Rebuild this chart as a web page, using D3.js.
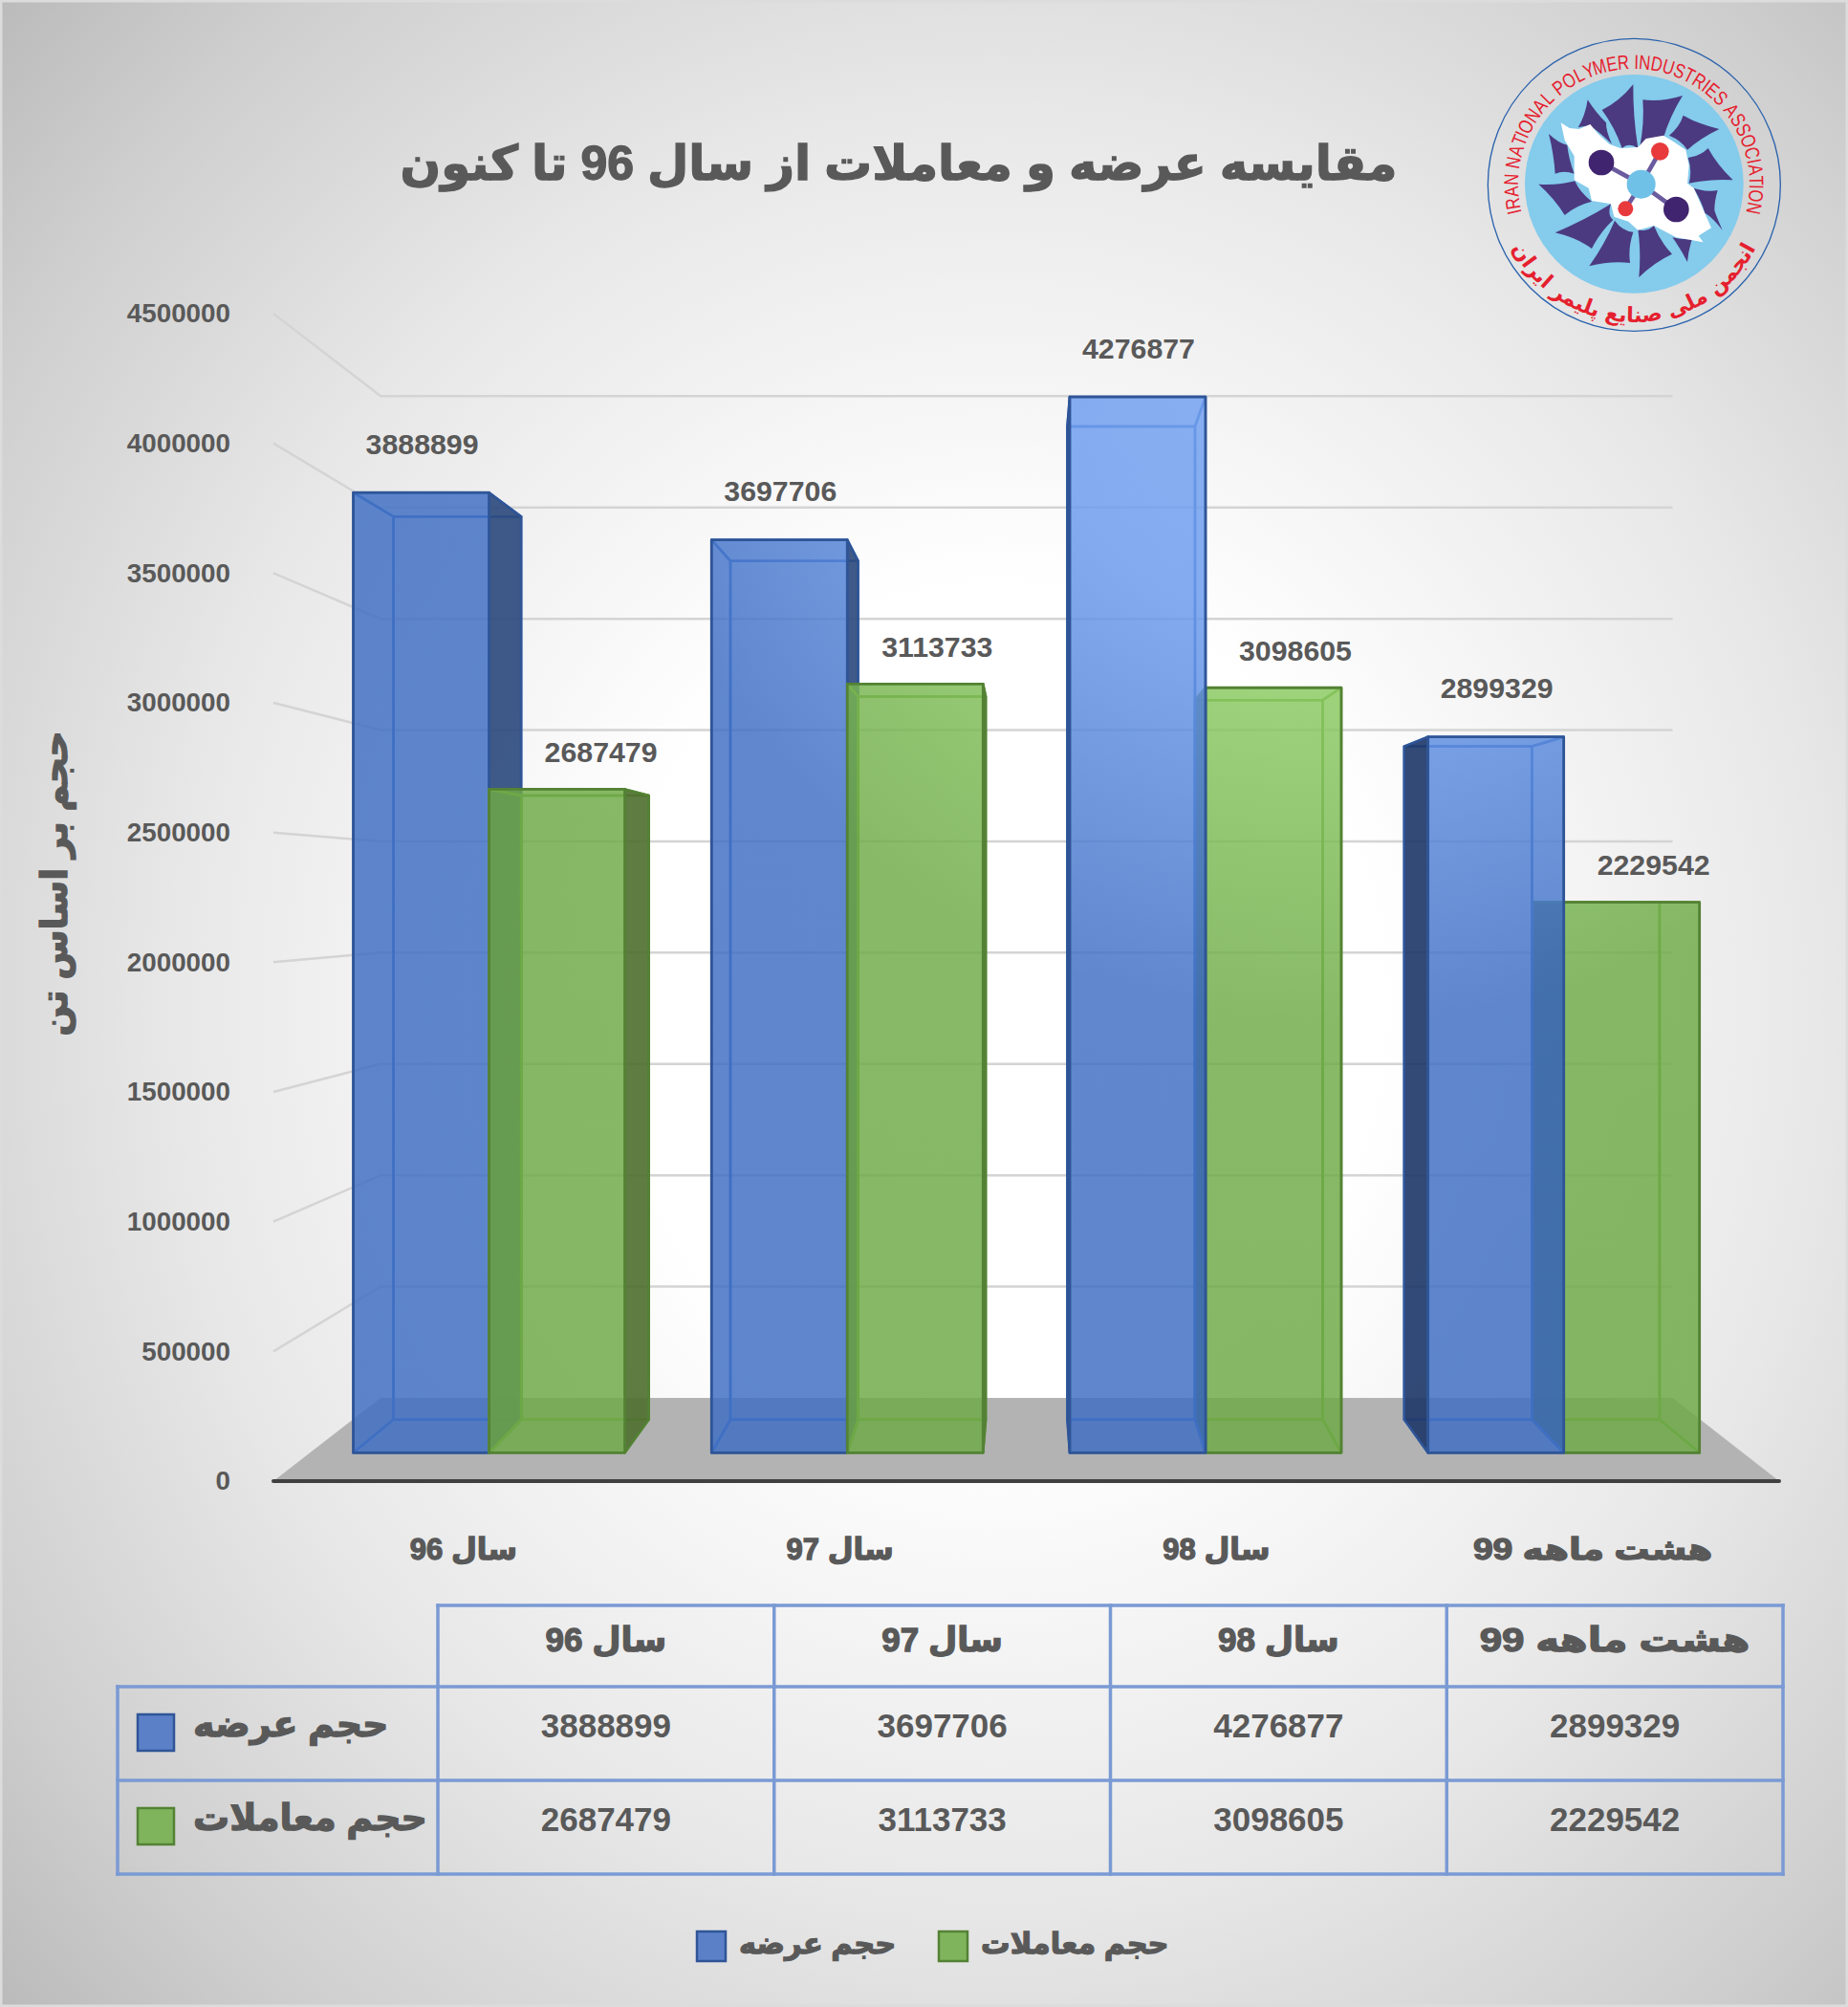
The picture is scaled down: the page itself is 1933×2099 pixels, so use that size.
<!DOCTYPE html>
<html>
<head>
<meta charset="utf-8">
<script src="https://cdn.jsdelivr.net/npm/d3@7"></script>
<style>
  html, body { margin: 0; padding: 0; background: #fff; }
  svg { display: block; }
  .fa { font-family: "Liberation Sans", "DejaVu Sans", sans-serif; font-weight: bold; fill: #595959; stroke: #595959; stroke-width: 1.3; }
  .num { font-family: "Liberation Sans", Arial, sans-serif; font-weight: bold; fill: #595959; }
</style>
</head>
<body>
<script>
// Data
const categories = ["سال 96", "سال 97", "سال 98", "هشت ماهه 99"];
const seriesNames = ["حجم عرضه", "حجم معاملات"];
const supply = [3888899, 3697706, 4276877, 2899329];
const trades = [2687479, 3113733, 3098605, 2229542];
const yTicks = [0, 500000, 1000000, 1500000, 2000000, 2500000, 3000000, 3500000, 4000000, 4500000];
const titleText = "مقایسه عرضه و معاملات از سال 96 تا کنون";
const yTitleText = "حجم بر اساس تن";

// Constants
const width = 1933;
const height = 2099;

// perspective: vanishing point and the depth of each plane
const vx = 1076, vy = 936;
const depthBarFront = 0.9516, depthBarBack = 0.895, depthWall = 0.858;

const project = (x, y, s) => [vx + (x - vx) * s, vy + (y - vy) * s];
const toPath = pts => "M" + pts.map(p => p.join(",")).join("L") + "Z";

const x0 = d3.scaleBand().domain(categories).range([286, 1861]).paddingInner(0.242).paddingOuter(0.121);
const x1 = d3.scaleBand().domain([0, 1]).range([0, x0.bandwidth()]);
const y = d3.scaleLinear().domain([0, 4500000]).range([1549, 328]);

const svg = d3.select("body").append("svg")
  .attr("width", width)
  .attr("height", height)
  .attr("viewBox", [0, 0, width, height]);

const defs = svg.append("defs");

const bg = defs.append("radialGradient").attr("id", "bg")
  .attr("cx", 0.54).attr("cy", 0.5).attr("r", 0.74);
[[0, "#ffffff"], [0.28, "#ffffff"], [0.6, "#e8e8e8"], [0.84, "#cfcfcf"], [1, "#bababa"]]
  .forEach(s => bg.append("stop").attr("offset", s[0]).attr("stop-color", s[1]));

// the front faces catch more light near the top of the third group
function faceGradient(id, stops) {
  const g = defs.append("radialGradient").attr("id", id)
    .attr("gradientUnits", "userSpaceOnUse")
    .attr("cx", 1400).attr("cy", 300).attr("r", 1100);
  stops.forEach(s => g.append("stop").attr("offset", s[0]).attr("stop-color", s[1]));
}
faceGradient("blueFace", [[0, "#7eacf8"], [0.32, "#70a0f2"], [0.7, "#3f6fc4"], [1, "#3e6ec3"]]);
faceGradient("greenFace", [[0, "#9cdc70"], [0.32, "#95d46a"], [0.7, "#6fab48"], [1, "#6ea946"]]);

const seriesStyle = [
  {face: "url(#blueFace)", inner: "#4472c4", edge: "#2f5597", innerEdge: "#4472c4", outer: "#2a4778", outerLeft: "#1c3464", key: "#5b80c8", keyEdge: "#2f5597"},
  {face: "url(#greenFace)", inner: "#70ad47", edge: "#548235", innerEdge: "#6ba644", outer: "#4d6c2f", outerLeft: "#3e6026", key: "#7fb45c", keyEdge: "#548235"}
];

svg.append("rect").attr("width", width).attr("height", height)
  .attr("fill", "url(#bg)").attr("stroke", "#dcdcdc").attr("stroke-width", 5);

// Floor
const xL = x0.range()[0], xR = x0.range()[1];
svg.append("path")
  .attr("fill", "#b3b3b3")
  .attr("d", toPath([[xL, y(0)], [xR, y(0)], project(xR, y(0), depthWall), project(xL, y(0), depthWall)]));

// Gridlines, along the side wall and then the back wall
svg.append("g").selectAll("path")
  .data(yTicks.filter(d => d > 0))
  .join("path")
  .attr("fill", "none")
  .attr("stroke", "#d4d4d4")
  .attr("stroke-width", 2.5)
  .attr("d", d => {
    const a = project(xL, y(d), depthWall), b = project(xR, y(d), depthWall);
    return "M" + [xL, y(d)] + "L" + a + "L" + b;
  });

// Bars
const bars = [];
categories.forEach((c, i) => {
  [supply[i], trades[i]].forEach((v, j) => {
    const xa = x0(c) + x1(j), xb = xa + x1.bandwidth();
    bars.push({i, j, v, xa, xb, far: Math.abs((xa + xb) / 2 - vx)});
  });
});
// the bars furthest from the vanishing point are painted first
bars.sort((a, b) => d3.descending(a.far, b.far));

const barGroups = svg.append("g").selectAll("g").data(bars).join("g");

barGroups.each(function(d) {
  const g = d3.select(this);
  const st = seriesStyle[d.j];
  const yt = y(d.v), yb = y(0);
  const f = (x, yy) => project(x, yy, depthBarFront);
  const b = (x, yy) => project(x, yy, depthBarBack);

  const faces = {
    back: [b(d.xa, yt), b(d.xb, yt), b(d.xb, yb), b(d.xa, yb)],
    floor: [f(d.xa, yb), f(d.xb, yb), b(d.xb, yb), b(d.xa, yb)],
    top: [f(d.xa, yt), f(d.xb, yt), b(d.xb, yt), b(d.xa, yt)],
    left: [f(d.xa, yt), b(d.xa, yt), b(d.xa, yb), f(d.xa, yb)],
    right: [f(d.xb, yt), b(d.xb, yt), b(d.xb, yb), f(d.xb, yb)],
    front: [f(d.xa, yt), f(d.xb, yt), f(d.xb, yb), f(d.xa, yb)]
  };

  const inner = pts => g.append("path").attr("d", toPath(pts))
    .attr("fill", st.inner).attr("fill-opacity", 0.35)
    .attr("stroke", st.innerEdge).attr("stroke-width", 2.5).attr("stroke-linejoin", "round");
  const outer = (pts, col) => g.append("path").attr("d", toPath(pts))
    .attr("fill", col).attr("fill-opacity", 0.86)
    .attr("stroke", st.edge).attr("stroke-width", 2.5).attr("stroke-linejoin", "round");

  inner(faces.back);
  inner(faces.floor);
  inner(faces.top);
  if (d.xa > vx) outer(faces.left, st.outerLeft); else inner(faces.left);
  if (d.xb < vx) outer(faces.right, st.outer); else inner(faces.right);

  g.append("path").attr("d", toPath(faces.front))
    .attr("fill", st.face).attr("fill-opacity", 0.74)
    .attr("stroke", st.edge).attr("stroke-width", 2.8).attr("stroke-linejoin", "round");
});

// Axis line
svg.append("line")
  .attr("x1", xL).attr("x2", xR).attr("y1", y(0)).attr("y2", y(0))
  .attr("stroke", "#404040").attr("stroke-width", 4).attr("stroke-linecap", "round");

// Y axis labels
const yAxis = svg.append("g")
  .attr("transform", `translate(${xL},0)`)
  .call(d3.axisLeft(y).tickValues(yTicks).tickSize(0).tickPadding(45).tickFormat(d3.format("d")));
yAxis.select(".domain").remove();
yAxis.selectAll("text").attr("class", "num").attr("font-size", 27.8).attr("font-family", null);

// Data labels, each series has its own offset from the bar top
const labelShift = [{dx: 1, dy: -51}, {dx: 23, dy: -39}];
svg.append("g").selectAll("text")
  .data(bars)
  .join("text")
  .attr("class", "num")
  .attr("font-size", 30.3)
  .attr("text-anchor", "middle")
  .attr("dominant-baseline", "central")
  .attr("x", d => project((d.xa + d.xb) / 2, y(d.v), depthBarFront)[0] + labelShift[d.j].dx + (d.i === 0 && d.j === 1 ? 23 : 0))
  .attr("y", d => project(d.xa, y(d.v), depthBarFront)[1] + labelShift[d.j].dy)
  .text(d => d.v);

// the last category is set wider than the others
const categoryStretch = [1, 1, 1, 1.2];
const stretchText = (sel, stretchOf) => sel.each(function(d, i) {
  const k = stretchOf(d, i);
  if (k !== 1) {
    d3.select(this)
      .attr("textLength", this.getComputedTextLength() * k)
      .attr("lengthAdjust", "spacingAndGlyphs");
  }
});

// Category labels
svg.append("g").selectAll("text")
  .data(categories)
  .join("text")
  .attr("class", "fa")
  .attr("font-size", 31)
  .attr("text-anchor", "middle")
  .attr("dominant-baseline", "central")
  .attr("x", d => x0(d) + x0.bandwidth() / 2 + 2)
  .attr("y", 1620)
  .text(d => d)
  .call(stretchText, (d, i) => categoryStretch[i]);

// Titles
svg.append("text").attr("class", "fa")
  .attr("x", 940).attr("y", 171)
  .attr("font-size", 50)
  .attr("text-anchor", "middle").attr("dominant-baseline", "central")
  .attr("stroke-width", 3)
  .text(titleText);

svg.append("text").attr("class", "fa")
  .attr("transform", "translate(57,924) rotate(-90)")
  .attr("font-size", 38)
  .attr("text-anchor", "middle").attr("dominant-baseline", "central")
  .attr("stroke-width", 2)
  .text(yTitleText);

// Data table
const colX = d3.scaleBand().domain(categories).range([458, 1865]);
const rowY = d3.scaleBand().domain([0, 1]).range([1764, 1960]);
const tableLine = "#7a9ad4";
const tableG = svg.append("g");

const lines = [
  [458, 1679, 1865, 1679],
  [123, 1764, 1865, 1764],
  [123, rowY(1), 1865, rowY(1)],
  [123, 1960, 1865, 1960],
  [123, 1764, 123, 1960],
  [458, 1679, 458, 1960]
].concat(categories.map(c => {
  const xx = colX(c) + colX.bandwidth();
  return [xx, 1679, xx, 1960];
}));
tableG.selectAll("line").data(lines).join("line")
  .attr("x1", d => d[0]).attr("y1", d => d[1]).attr("x2", d => d[2]).attr("y2", d => d[3])
  .attr("stroke", tableLine).attr("stroke-width", 3.5).attr("stroke-linecap", "square");

tableG.selectAll("text.head").data(categories).join("text")
  .attr("class", "fa head")
  .attr("font-size", 35)
  .attr("text-anchor", "middle").attr("dominant-baseline", "central")
  .attr("x", d => colX(d) + colX.bandwidth() / 2)
  .attr("y", 1714)
  .text(d => d)
  .call(stretchText, (d, i) => categoryStretch[i]);

[supply, trades].forEach((vals, j) => {
  const cy = rowY(j) + rowY.bandwidth() / 2;
  tableG.selectAll("text.row" + j).data(vals).join("text")
    .attr("class", "num row" + j)
    .attr("font-size", 35)
    .attr("text-anchor", "middle").attr("dominant-baseline", "central")
    .attr("x", (d, i) => colX(categories[i]) + colX.bandwidth() / 2)
    .attr("y", cy - 9)
    .text(d => d);
  tableG.append("rect")
    .attr("x", 144).attr("y", cy - 20)
    .attr("width", 38).attr("height", 38)
    .attr("fill", seriesStyle[j].key).attr("stroke", seriesStyle[j].keyEdge).attr("stroke-width", 2.5);
  tableG.append("text").attr("class", "fa")
    .attr("font-size", 38)
    .attr("stroke-width", 1.6)
    .attr("x", 202).attr("y", cy - 10)
    .attr("dominant-baseline", "central")
    .text(seriesNames[j]);
});

// Legend
const legendX = d3.scaleOrdinal().domain([0, 1]).range([729, 982]);
const legend = svg.append("g").selectAll("g").data(seriesNames).join("g")
  .attr("transform", (d, i) => `translate(${legendX(i)},2020)`);
legend.append("rect")
  .attr("width", 30).attr("height", 31)
  .attr("fill", (d, i) => seriesStyle[i].key)
  .attr("stroke", (d, i) => seriesStyle[i].keyEdge).attr("stroke-width", 2.5);
legend.append("text").attr("class", "fa")
  .attr("x", 44).attr("y", 12)
  .attr("font-size", 30.5)
  .attr("dominant-baseline", "central")
  .text(d => d);

// Logo
const logoPetals = [
  [[482,313],[540,385],[558,452],[490,395],[452,400]],
  [[625,265],[527,345],[590,465],[640,465]],
  [[780,300],[655,313],[645,465],[720,432]],
  [[895,405],[782,362],[738,425],[795,470]],
  [[938,565],[860,465],[797,495],[800,575]],
  [[890,597],[815,590],[850,668],[905,722],[880,660]],
  [[810,750],[748,745],[795,822]],
  [[747,797],[690,708],[640,720],[643,870]],
  [[625,728],[567,692],[487,835],[615,825]],
  [[555,640],[380,730],[495,780],[562,690]],
  [[328,578],[442,568],[495,632],[410,675]],
  [[360,420],[418,455],[440,545],[380,545]]
];
const logoMap = [[398,385],[425,402],[455,405],[490,390],[515,420],[550,452],[585,465],[640,462],[665,435],[720,425],[745,440],[790,470],[800,520],[795,575],[815,590],[850,670],[870,715],[830,740],[845,760],[760,745],[690,708],[640,722],[610,695],[565,680],[555,640],[495,630],[485,590],[440,565],[440,490],[410,440]];
const logoBonds = [[[525,510],[650,578]],[[760,657],[650,578]],[[709,475],[650,578]],[[601,655],[650,578]]];
const logoAtoms = [[525,510,40,"#41246f"],[760,657,40,"#41246f"],[709,475,28,"#e83a3c"],[601,655,24,"#e83a3c"],[650,578,45,"#6fc1e8"]];

// petal edges bow inwards, like a sail
function petalPath(pts) {
  const c = d3.polygonCentroid(pts);
  let p = "M" + pts[0];
  pts.forEach((a, i) => {
    const b = pts[(i + 1) % pts.length];
    const mx = (a[0] + b[0]) / 2, my = (a[1] + b[1]) / 2;
    p += "Q" + [mx + (c[0] - mx) * 0.22, my + (c[1] - my) * 0.22] + " " + b;
  });
  return p + "Z";
}

const logo = svg.append("g").attr("transform", "translate(1500,0) scale(0.33333)");
logo.append("circle").attr("cx", 628).attr("cy", 580).attr("r", 459)
  .attr("fill", "none").attr("stroke", "#2a62ad").attr("stroke-width", 4);
logo.append("circle").attr("cx", 628).attr("cy", 577).attr("r", 343).attr("fill", "#84cbec");
logo.selectAll("path.petal").data(logoPetals).join("path")
  .attr("class", "petal")
  .attr("fill", "#4b3a80")
  .attr("d", petalPath);
logo.append("path").attr("fill", "#fff").attr("d", d3.line().curve(d3.curveLinearClosed)(logoMap));
logo.selectAll("line").data(logoBonds).join("line")
  .attr("x1", d => d[0][0]).attr("y1", d => d[0][1]).attr("x2", d => d[1][0]).attr("y2", d => d[1][1])
  .attr("stroke", "#6a5a9e").attr("stroke-width", 14);
logo.selectAll("circle.atom").data(logoAtoms).join("circle")
  .attr("class", "atom")
  .attr("cx", d => d[0]).attr("cy", d => d[1]).attr("r", d => d[2]).attr("fill", d => d[3]);

// English ring text, one letter at a time round the circle
const logoCx = 1709, logoCy = 193, logoR = 121;
const ringText = "IRAN NATIONAL POLYMER INDUSTRIES ASSOCIATION";
const ringStart = 166, ringSweep = 208;
const ringFont = "bold 21px 'Liberation Sans'";
const ctx = document.createElement("canvas").getContext("2d");
ctx.font = ringFont;
const ringTotal = ctx.measureText(ringText).width;
const ringArc = logoR * ringSweep * Math.PI / 180;
const ringScale = ringArc / ringTotal;
const ringChars = ringText.split("").map((ch, i) => {
  const before = ctx.measureText(ringText.slice(0, i)).width;
  const w = ctx.measureText(ch).width;
  return {ch, deg: ringStart + ringSweep * (before + w / 2) / ringTotal};
});
svg.append("g").selectAll("text").data(ringChars).join("text")
  .attr("font-family", "'Liberation Sans', sans-serif")
  .attr("font-weight", "normal")
  .attr("font-size", 21)
  .attr("fill", "#e5202e")
  .attr("text-anchor", "middle")
  .attr("transform", d => {
    const a = d.deg * Math.PI / 180;
    const px = logoCx + logoR * Math.cos(a), py = logoCy + logoR * Math.sin(a);
    return `translate(${px},${py}) rotate(${d.deg + 90}) scale(${ringScale},1)`;
  })
  .text(d => d.ch);

const arcPoint = (r, deg) => {
  const a = deg * Math.PI / 180;
  return [logoCx + r * Math.cos(a), logoCy + r * Math.sin(a)];
};
const botA = arcPoint(144, 178), botB = arcPoint(144, 2);
defs.append("path").attr("id", "logoBottom").attr("d", `M${botA}A144,144 0 0 0 ${botB}`);

svg.append("text")
  .attr("font-family", "'DejaVu Sans', sans-serif").attr("font-weight", "bold")
  .attr("font-size", 22).attr("fill", "#e5202e")
  .append("textPath").attr("href", "#logoBottom").attr("startOffset", "50%").attr("text-anchor", "middle")
  .text("انجمن ملی صنایع پلیمر ایران");
</script>
</body>
</html>
